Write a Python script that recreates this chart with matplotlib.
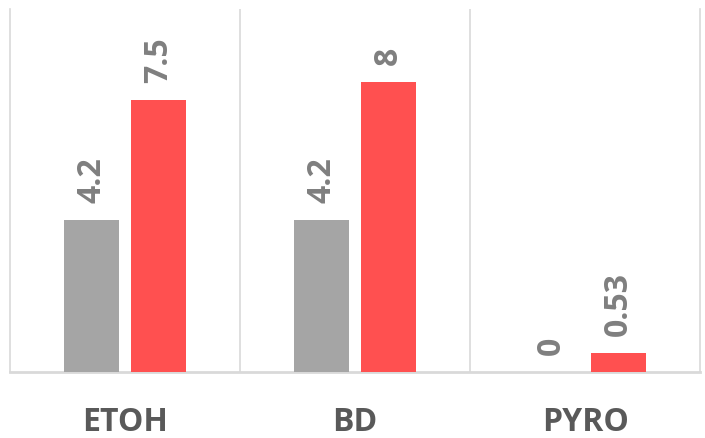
import matplotlib.pyplot as plt
import numpy as np

categories = ["ETOH", "BD", "PYRO"]
gray_vals = [4.2, 4.2, 0]
red_vals = [7.5, 8, 0.53]

plt.rcParams['font.family'] = ['Open Sans', 'DejaVu Sans']

fig = plt.figure(figsize=(7.05, 4.39), dpi=100)
ax = fig.add_axes([0.0142, 0.150, 0.979, 0.827])

x = np.arange(len(categories))
w = 0.24
off = 0.145
ax.bar(x - off, gray_vals, w, color="#A5A5A5", zorder=3)
ax.bar(x + off, red_vals, w, color="#FF5050", zorder=3)

for xi, g, r in zip(x, gray_vals, red_vals):
    for xx, v in ((xi - off, g), (xi + off, r)):
        ax.text(xx, v + 0.5, f"{v:g}", rotation=90, ha="center", va="bottom",
                fontsize=23, fontweight="bold", color="#7F7F7F")

ax.set_xlim(-0.5, 2.5)
ax.set_ylim(0, 10)
ax.set_yticks([])
ax.set_xticks(x)
ax.set_xticklabels(categories, fontsize=23, fontweight="bold", color="#595959")
ax.tick_params(axis="x", length=0, pad=24)
ax.set_xticks([0.5, 1.5], minor=True)
ax.tick_params(axis="x", which="minor", length=0)
ax.grid(True, which="minor", axis="x", color="#D9D9D9", linewidth=1.2, zorder=0)

for s in ["top"]:
    ax.spines[s].set_visible(False)
for s in ["left", "right", "bottom"]:
    ax.spines[s].set_color("#D9D9D9")
    ax.spines[s].set_linewidth(1.2)
ax.spines["bottom"].set_linewidth(2)

fig.savefig("out.png", dpi=100)
